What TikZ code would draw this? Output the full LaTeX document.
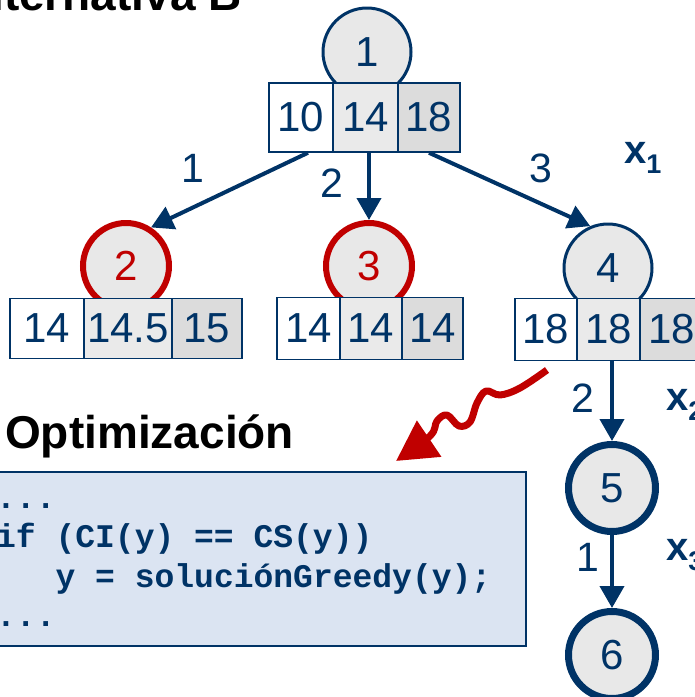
\documentclass[tikz,border=0pt]{standalone}
\usepackage{fontspec}
\setmainfont{Liberation Sans}
\setmonofont{Liberation Mono}
\usetikzlibrary{arrows.meta, calc}
\definecolor{navy}{RGB}{0,51,102}
\definecolor{cred}{RGB}{192,0,0}
\definecolor{nodegray}{RGB}{232,232,232}
\definecolor{cellmid}{RGB}{234,234,234}
\definecolor{celldark}{RGB}{220,220,220}
\definecolor{codebg}{RGB}{219,228,242}

\tikzset{
  state/.style={circle, draw=navy, fill=nodegray, line width=3pt, minimum size=88pt, inner sep=0pt, text=navy, font=\fontsize{42}{42}\selectfont},
  pruned/.style={state, draw=cred, text=cred, line width=6pt, minimum size=86pt},
  chosen/.style={state, line width=7pt, minimum size=87pt},
  cell/.style={rectangle, draw=navy, line width=1.5pt, inner sep=0pt, text=navy, font=\fontsize{42}{42}\selectfont},
  branch/.style={navy, line width=4pt, -{Triangle[length=22pt,width=24pt]}},
  wave/.style={cred, line width=7pt, line join=round, -{Triangle[length=40pt,width=42pt]}},
  lbl/.style={text=navy, font=\fontsize{41}{41}\selectfont},
  varlbl/.style={anchor=west, inner sep=0pt, text=navy, font=\fontsize{40}{40}\selectfont\bfseries},
  codebox/.style={rectangle, draw=navy, fill=codebg, line width=2pt, inner sep=0pt},
  codeline/.style={anchor=base west, inner sep=0pt, text=navy, font=\fontsize{33}{33}\selectfont\ttfamily\bfseries},
  title/.style={inner sep=0pt, font=\fontsize{46}{46}\selectfont\bfseries}
}
\newcommand{\sublbl}[1]{\raisebox{-10pt}{\fontsize{27}{27}\selectfont #1}}

\begin{document}
\begin{tikzpicture}[x=1pt, y=-1pt]
	\useasboundingbox (0,0) rectangle (695,697);
	\clip (0,0) rectangle (695,697);

	% Titles
	\node[title, anchor=base east] (altB) at (242,10) {Alternativa B};
	\node[title, anchor=base west] (optim) at (5,448) {Optimización};

	% Tree nodes
	\node[state] (n1) at (367,52) {1};
	\node[pruned] (n2) at (126,266) {2};
	\node[pruned] (n3) at (369,266) {3};
	\node[state] (n4) at (608,268) {4};
	\node[chosen] (n5) at (612,488) {5};
	\node[chosen] (n6) at (612,655) {6};

	% Bounds under each node
	\node[cell, fill=white, minimum width=64pt, minimum height=69pt] (b1a) at (301,117.5) {10};
	\node[cell, fill=cellmid, minimum width=65pt, minimum height=69pt] (b1b) at (365.5,117.5) {14};
	\node[cell, fill=celldark, minimum width=62pt, minimum height=69pt] (b1c) at (429,117.5) {18};

	\node[cell, fill=white, minimum width=74pt, minimum height=60pt] (b2a) at (47,328.5) {14};
	\node[cell, fill=cellmid, minimum width=88pt, minimum height=60pt] (b2b) at (128,328.5) {14.5};
	\node[cell, fill=celldark, minimum width=70pt, minimum height=60pt] (b2c) at (207,328.5) {15};

	\node[cell, fill=white, minimum width=63pt, minimum height=62pt] (b3a) at (308.5,328.5) {14};
	\node[cell, fill=cellmid, minimum width=62pt, minimum height=62pt] (b3b) at (371,328.5) {14};
	\node[cell, fill=celldark, minimum width=61pt, minimum height=62pt] (b3c) at (432.5,328.5) {14};

	\node[cell, fill=white, minimum width=62pt, minimum height=62pt] (b4a) at (546,329.5) {18};
	\node[cell, fill=cellmid, minimum width=63pt, minimum height=62pt] (b4b) at (608.5,329.5) {18};
	\node[cell, fill=celldark, minimum width=64pt, minimum height=62pt] (b4c) at (672,329.5) {18};

	% Branches
	\draw[branch] ($(b1a.south)+(7,0)$) -- (n2.57);
	\draw[branch] (b1b.south -| n3) -- (n3);
	\draw[branch] (b1c.south) -- (n4.113);
	\draw[branch] (b4b.south -| n5) -- (n5);
	\draw[branch] (n5) -- (n6);

	\node[lbl] (l1) at (193,168) {1};
	\node[lbl] (l2) at (332,183) {2};
	\node[lbl] (l3) at (541,168) {3};
	\node[lbl] (l4) at (583,398) {2};
	\node[lbl] (l5) at (588,557) {1};

	\node[varlbl] (x1) at (624,158) {x\sublbl{1}};
	\node[varlbl] (x2) at (666,405) {x\sublbl{2}};
	\node[varlbl] (x3) at (666,555) {x\sublbl{3}};

	% Code of the optimisation
	\node[codebox, minimum width=545pt, minimum height=174pt, anchor=north east] (code) at (527,471) {};
	\node[codeline] (c1) at (-4,508) {...};
	\node[codeline] (c2) at (-4,547.5) {if (CI(y) == CS(y))};
	\node[codeline] (c3) at (-4,587) {\phantom{if }y = soluciónGreedy(y);};
	\node[codeline] (c4) at (-4,626.5) {...};

	% Wavy pointer
	\coordinate (wstart) at (547,370);
	\coordinate (wtip) at (396,461);
	\draw[wave] plot[smooth, tension=0.6] coordinates {(wstart) (520,388) (500,395) (486,391) (477,403) (470,422) (459,426) (447,415) (437,421) (430,436) (wtip)};

\end{tikzpicture}
\end{document}
